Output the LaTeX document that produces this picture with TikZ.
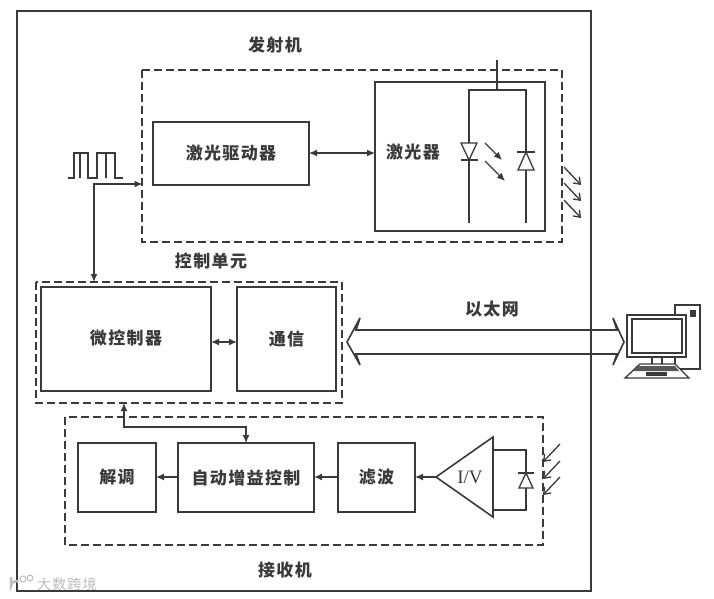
\documentclass[tikz,border=0pt]{standalone}
\usepackage{fontspec}
\setmainfont[LetterSpace=8]{Noto Sans CJK SC}
\newfontfamily\ivfont{Liberation Serif}
\usetikzlibrary{arrows.meta,calc}
\definecolor{ink}{HTML}{3A3A3A}
\definecolor{wm}{HTML}{BDBDBD}
\tikzset{
  ln/.style={draw=ink,line width=1.6pt},
  thin ln/.style={draw=ink,line width=1.3pt},
  dash box/.style={draw=ink,line width=1.5pt,dash pattern=on 8pt off 4pt},
  blockbox/.style={ln,inner sep=0pt,outer sep=0pt,anchor=north west,font=\fontsize{17}{17}\selectfont\bfseries,text=ink},
  lbl/.style={inner sep=0pt,font=\fontsize{17}{17}\selectfont\bfseries,text=ink},
  sig/.style={thin ln,{Latex[length=8pt,width=7pt]}-{Latex[length=8pt,width=7pt]}},
  one/.style={thin ln,-{Latex[length=8pt,width=7pt]}},
  ray/.style={thin ln,-{Straight Barb[length=6pt,width=9pt]}},
}
\newcommand{\blk}[6]{\node[blockbox,minimum width=#4pt-#2pt,minimum height=#5pt-#3pt] (#1) at (#2,#3) {#6};}
\begin{document}
\begin{tikzpicture}[x=1pt,y=-1pt]
\useasboundingbox (0,0) rectangle (714,598);
\fill[white] (0,0) rectangle (714,598);
% outer frame
\draw[ln] (17,11) rectangle (591,591);
% dashed groups
\draw[dash box] (142,70) rectangle (562,242);
\draw[dash box] (36,282) rectangle (342,403);
\draw[dash box] (65,417) rectangle (543,545);
% blocks
\blk{drv}{153}{122}{309}{185}{激光驱动器}
\node[ln,inner sep=0pt,outer sep=0pt,anchor=north west,minimum width=170pt,minimum height=149pt] (las) at (375,82) {};
\node[lbl] (lastxt) at (413,152) {激光器};
\blk{mcu}{41}{287}{211}{391}{}
\node[lbl] (mcutxt) at (126,338) {微控制器};
\blk{com}{237}{287}{336}{391}{通信}
\blk{dem}{78}{443}{156}{512}{解调}
\blk{agc}{178}{443}{314}{512}{自动增益控制}
\blk{flt}{338}{443}{415}{512}{滤波}
% labels
\node[lbl] (t1) at (275,45) {发射机};
\node[lbl] (t2) at (211,261) {控制单元};
\node[lbl] (t3) at (492,309) {以太网};
\node[lbl] (t4) at (285,570) {接收机};
% signal connectors
\draw[sig] (drv.east |- 0,153) -- (las.west |- 0,153);
\draw[sig] (mcu.east |- 0,342) -- (com.west |- 0,342);
\coordinate (txin) at (142.5,184);
\coordinate (mcutop) at (94,282);
\draw[sig] (mcutop) -- (94,184) -- (txin);
\coordinate (cb) at (124,403);
\draw[sig] (cb) -- (124,427) -- (246,427) -- (agc.north -| 246,0);
\draw[one] (agc.west |- 0,477) -- (dem.east |- 0,477);
\draw[one] (flt.west |- 0,477) -- (agc.east |- 0,477);
% pulses
\draw[ln,line join=miter] (68,178) -- (74,178) -- (74,153) -- (80,153) -- (80,178) -- (80,153) -- (88,153) -- (88,178) -- (97,178) -- (97,153) -- (106,153) -- (106,178) -- (106,153) -- (115,153) -- (115,178) -- (123,178);
% laser circuit
\coordinate (lastop) at (497,60);
\draw[ln] (lastop) -- (497,90);
\draw[ln] (469,223) -- (469,90) -- (526,90) -- (526,223);
\draw[thin ln,fill=white] (461,143) -- (477,143) -- (469,160) -- cycle;
\draw[ln] (461,160) -- (478,160);
\draw[thin ln,fill=white] (518,170) -- (534,170) -- (526,152) -- cycle;
\draw[ln] (517,152) -- (535,152);
\draw[one] (485,143) -- (502,160);
\draw[one] (485,161) -- (505,181);
\draw[ray] (564,167) -- (581,185);
\draw[ray] (564,183) -- (581,201);
\draw[ray] (564,200) -- (581,218);
% amplifier
\node[inner sep=0pt] (amp) at (465,477) {};
\draw[ln,line join=miter] (436,477) -- (493,437) -- (493,517) -- cycle;
\node[inner sep=0pt,text=ink,font=\ivfont\fontsize{19}{19}\selectfont] (ivt) at (470,477) {I/V};
\draw[one] (436,477) -- (flt.east |- 0,477);
\draw[ln] (493,450) -- (526,450) -- (526,510) -- (493,510);
\draw[thin ln,fill=white] (519,488) -- (533,488) -- (526,473) -- cycle;
\draw[thin ln] (518,473) -- (534,473);
\draw[ray] (560,444) -- (543,462);
\draw[ray] (560,461) -- (543,479);
\draw[ray] (560,477) -- (543,495);
% ethernet hollow double arrow
\draw[ln,line join=miter,fill=white] (347,342) -- (360,318) -- (356,330) -- (617,330) -- (613,318) -- (624,342) -- (613,365) -- (617,354) -- (356,354) -- (360,365) -- cycle;
\draw[ln] (591,325) -- (591,358);
% computer
\draw[thin ln,fill=white] (675,305) -- (700,305) -- (700,369) -- (675,369) -- cycle;
\fill[ink] (690,310) rectangle (696,317);
\draw[thin ln] (652,357) -- (652,366);
\draw[thin ln] (662,357) -- (662,366);
\draw[thin ln] (675,357) -- (675,366);
\draw[ln,fill=white] (627,315) rectangle (686,357);
\draw[thin ln] (632,319) rectangle (682,353);
\draw[thin ln,fill=white] (640,364) -- (675,364) -- (689,378) -- (625,378) -- cycle;
\fill[ink!85] (636,366) -- (675,366) -- (679,371) -- (633,371) -- cycle;
\fill[ink] (646,372) rectangle (667,376);
% watermark
\draw[wm,line width=2.5pt] (11,577) -- (11,586) arc (180:300:5);
\draw[wm,line width=1pt] (23,579) circle (3);
\draw[wm,line width=1pt] (30,578) circle (3);
\node[inner sep=0pt,text=wm,anchor=west,font=\fontsize{14}{14}\selectfont] (wmt) at (37,584) {大数跨境};
\end{tikzpicture}
\end{document}
